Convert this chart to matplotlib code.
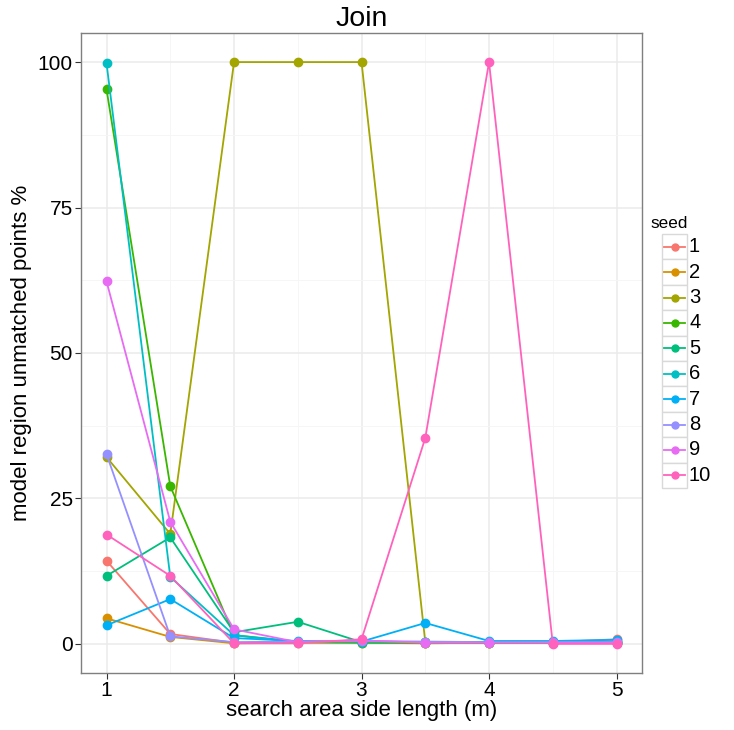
import matplotlib.pyplot as plt
from matplotlib.patches import Rectangle
from matplotlib.lines import Line2D

plt.rcParams['font.family'] = ['Liberation Sans', 'DejaVu Sans']

side = [1, 1.5, 2, 2.5, 3, 3.5, 4, 4.5, 5]
seeds = ['1', '2', '3', '4', '5', '6', '7', '8', '9', '10']
colors = ['#F8766D', '#D89000', '#A3A500', '#39B600', '#00BF7D',
          '#00BFC4', '#00B0F6', '#9590FF', '#E76BF3', '#FF62BC']

s1 = [14.3, 1.7, 0.2, 0.3, 0.3, 0.2, 0.3, 0.3, 0.8]
s2 = [4.4, 1.2, 0.1, 0.2, 0.2, 0.1, 0.2, 0.2, 0.2]
s3 = [32.1, 18.9, 100, 100, 100, 0.3, 0.2, 0.2, 0.2]
s4 = [95.3, 27.1, 1.5, 0.3, 0.2, 0.2, 0.2, 0.2, 0.2]
s5 = [11.7, 18.3, 2.0, 3.8, 0.3, 0.3, 0.3, 0.3, 0.3]
s6 = [99.8, 11.5, 1.5, 0.4, 0.4, 0.3, 0.3, 0.3, 0.4]
s7 = [3.2, 7.7, 1.0, 0.5, 0.4, 3.6, 0.5, 0.5, 0.7]
s8 = [32.6, 1.3, 0.3, 0.4, 0.5, 0.4, 0.3, 0.3, 0.3]
s9 = [62.3, 21.0, 2.5, 0.3, 0.6, 0.2, 0.2, 0.2, 0.2]
s10 = [18.8, 11.7, 0.1, 0.1, 0.8, 35.4, 100, 0.0, 0.0]
series = [s1, s2, s3, s4, s5, s6, s7, s8, s9, s10]

fig = plt.figure(figsize=(7.34, 7.30), dpi=100)
ax = fig.add_axes([0.1104, 0.0781, 0.7643, 0.8767])

for vals, c in zip(series, colors):
    ax.plot(side, vals, color=c, lw=1.3, marker='o', ms=6, mec=c, mfc=c, zorder=3)

ax.set_xlim(0.8, 5.2)
ax.set_ylim(-5, 105)
ax.set_xticks([1, 2, 3, 4, 5])
ax.set_xticks([1.5, 2.5, 3.5, 4.5], minor=True)
ax.set_yticks([0, 25, 50, 75, 100])
ax.set_yticks([12.5, 37.5, 62.5, 87.5], minor=True)
ax.grid(which='major', color='#EBEBEB', lw=1.1, zorder=0)
ax.grid(which='minor', color='#F5F5F5', lw=0.6, zorder=0)
ax.tick_params(which='major', length=4, color='#333333', labelsize=15, labelcolor='black', pad=2)
ax.tick_params(which='minor', length=0)
for sp in ax.spines.values():
    sp.set_color('#7F7F7F')
    sp.set_linewidth(1.0)
ax.set_xlabel('search area side length (m)', fontsize=16, labelpad=0)
ax.set_ylabel('model region unmatched points %', fontsize=16, labelpad=4)
ax.set_title('Join', fontsize=20.5, pad=5)

# legend, ggplot style
fig.text(650 / 734, 1 - 223 / 730, 'seed', fontsize=12.3, va='center', ha='left')
kx, kw, kh = 662 / 734, 25 / 734, 25.4 / 730
for i, (lab, c) in enumerate(zip(seeds, colors)):
    top = 1 - (234 + i * 25.4) / 730
    fig.patches.append(Rectangle((kx, top - kh), kw, kh, transform=fig.transFigure,
                                 facecolor='white', edgecolor='#D9D9D9', lw=1.0))
    yc = top - kh / 2
    fig.lines.append(Line2D([kx + 0.003, kx + kw - 0.003], [yc, yc], transform=fig.transFigure,
                            color=c, lw=1.3))
    fig.lines.append(Line2D([kx + kw / 2], [yc], transform=fig.transFigure,
                            color=c, marker='o', ms=5, ls='none'))
    fig.text(689 / 734, yc, lab, fontsize=14.5, va='center', ha='left')

fig.savefig('out.png', dpi=100)
